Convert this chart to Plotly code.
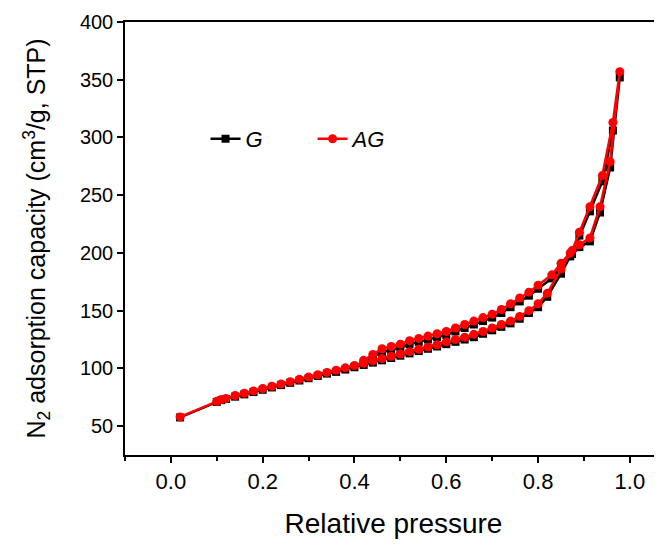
import plotly.graph_objects as go

# relative pressure, adsorption branch (low -> high) and desorption branch (high -> low)
p_ads = [0.02, 0.10, 0.11, 0.12, 0.14, 0.16, 0.18, 0.20, 0.22, 0.24, 0.26, 0.28,
         0.30, 0.32, 0.34, 0.36, 0.38, 0.40, 0.42, 0.44, 0.46, 0.48, 0.50, 0.52,
         0.54, 0.56, 0.58, 0.60, 0.62, 0.64, 0.66, 0.68, 0.70, 0.72, 0.74, 0.76,
         0.78, 0.80, 0.82, 0.85, 0.87, 0.89, 0.913, 0.935, 0.957, 0.978]
p_des = [0.963, 0.94, 0.913, 0.89, 0.874, 0.85, 0.83, 0.80, 0.78, 0.76, 0.74,
         0.72, 0.70, 0.68, 0.66, 0.64, 0.62, 0.60, 0.58, 0.56, 0.54, 0.52, 0.50,
         0.48, 0.46, 0.44, 0.42]

# G sample
g_ads = [57.5, 71, 72.5, 73.5, 75.5, 77.5, 79.5, 81.5, 83.5, 85.5, 87.5, 89.5,
         91.5, 93.5, 95.5, 97, 99, 101, 103, 105, 107, 109, 111, 113,
         115, 117, 119, 121, 123, 125, 127, 130, 133, 136, 139, 143,
         148, 153, 162, 182, 197, 205, 210, 235, 274, 352]
g_des = [306, 262, 236, 215, 199, 188, 178, 169, 163, 158, 153,
         148, 144, 141, 138, 135, 132, 129, 127, 125, 123, 121, 118,
         116, 114, 110, 105]

# AG sample
ag_ads = [58, 71.5, 73, 74, 76.5, 78.5, 80.5, 82.5, 84.5, 86.5, 88.5, 90.5,
          92.5, 94.5, 96.5, 98.5, 100.5, 102.5, 104.5, 106.5, 108.5, 110.5, 112.5, 114.5,
          116.5, 118.5, 120.5, 123, 125, 127, 129.5, 132, 135, 138, 141, 145,
          150, 156, 165, 186, 200, 207, 213, 240, 279, 357]
ag_des = [313, 267, 240, 218, 202, 191, 181, 172, 166, 161, 156,
          151, 147, 144, 141, 138, 135, 132, 130, 128, 126, 124, 121,
          119, 117, 112, 107]

font = "Arial, Liberation Sans, sans-serif"

fig = go.Figure()
fig.add_trace(go.Scatter(
    x=p_ads + p_des, y=g_ads + g_des, name="<i>G</i>", mode="lines+markers",
    line=dict(color="black", width=2.5),
    marker=dict(symbol="square", size=8, color="black"),
))
fig.add_trace(go.Scatter(
    x=p_ads + p_des, y=ag_ads + ag_des, name="<i>AG</i>", mode="lines+markers",
    line=dict(color="#ff0000", width=2.5),
    marker=dict(symbol="circle", size=9, color="#ff0000"),
))

# page body has an 8px margin, so the figure is a bit smaller than the window
fig.update_layout(
    width=654, height=537,
    margin=dict(l=117, r=0, t=14, b=90),
    paper_bgcolor="white", plot_bgcolor="white",
    font=dict(family=font, color="black"),
    showlegend=True,
    legend=dict(orientation="h", x=0.15, y=0.73, xanchor="left", yanchor="middle",
                font=dict(size=22, family=font), bgcolor="rgba(0,0,0,0)",
                entrywidth=62, tracegroupgap=0),
)
fig.update_xaxes(
    range=[-0.1, 1.07], tick0=0, dtick=0.2, tickformat=".1f",
    showgrid=False, zeroline=False,
    showline=True, linecolor="black", linewidth=1.5, mirror=True,
    ticks="outside", ticklen=6, tickwidth=1.5, tickcolor="black",
    tickfont=dict(size=22),
    minor=dict(dtick=0.1, ticks="outside", ticklen=4, tickwidth=1.5, tickcolor="black"),
    title=dict(text="Relative pressure", font=dict(size=28), standoff=20),
)
fig.update_yaxes(
    range=[25, 400], tick0=0, dtick=50,
    showgrid=False, zeroline=False,
    showline=True, linecolor="black", linewidth=1.5,
    ticks="outside", ticklen=6, tickwidth=1.5, tickcolor="black",
    tickfont=dict(size=20),
    title=dict(text="N<sub>2</sub> adsorption capacity (cm<sup>3</sup>/g, STP)",
               font=dict(size=25), standoff=27),
)

fig.write_html("out.html")
